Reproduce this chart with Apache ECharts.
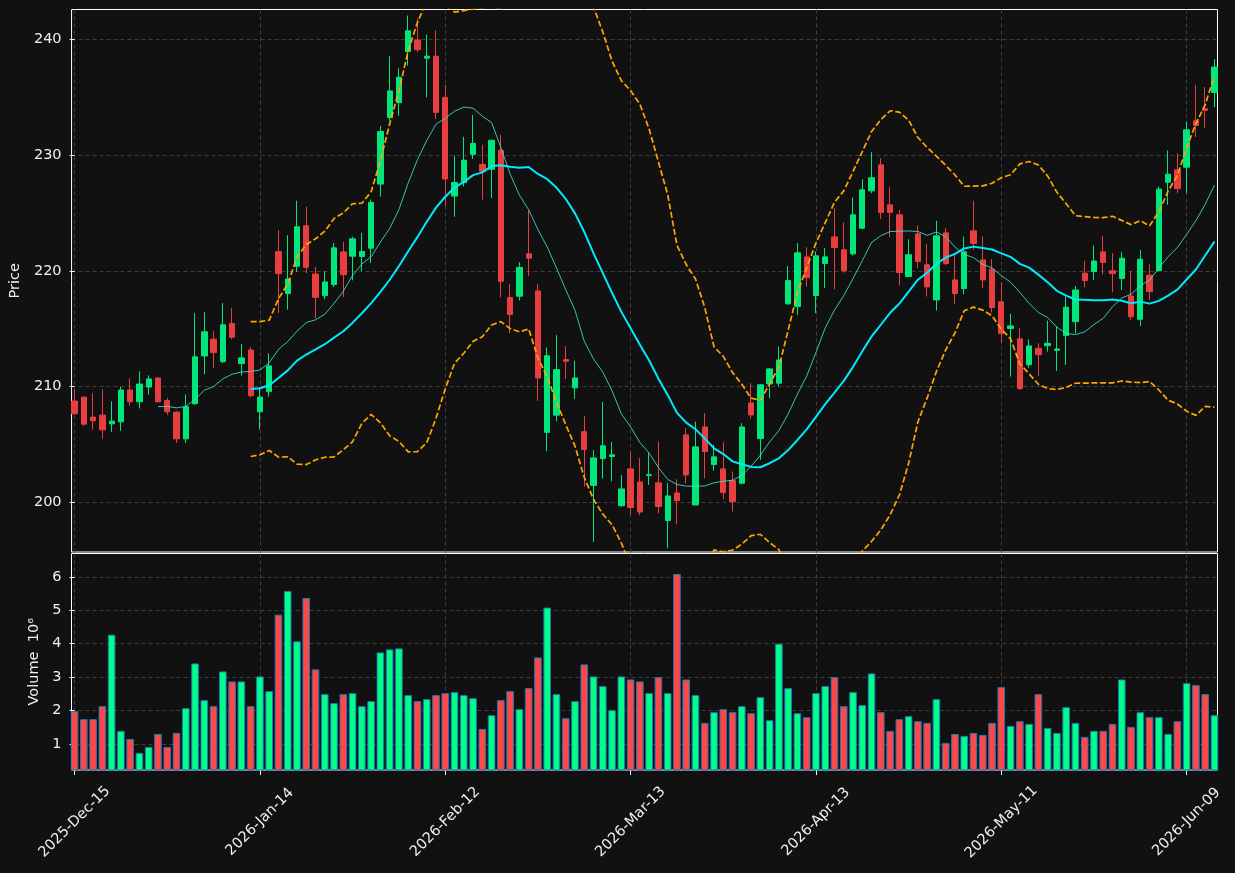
<!DOCTYPE html>
<html>
<head>
<meta charset="utf-8">
<title>Candlestick</title>
<script src="https://cdn.jsdelivr.net/npm/echarts@6/dist/echarts.min.js"></script>
<style>
  html, body { margin: 0; padding: 0; background: #111111; }
  #chart { width: 1235px; height: 873px; }
</style>
</head>
<body>
<div id="chart"></div>
<script>
// trading days (index 0..123)
const dates = [
  '2025-12-15','2025-12-16','2025-12-17','2025-12-18','2025-12-19','2025-12-22','2025-12-23','2025-12-24','2025-12-26','2025-12-29',
  '2025-12-30','2025-12-31','2026-01-02','2026-01-05','2026-01-06','2026-01-07','2026-01-08','2026-01-09','2026-01-12','2026-01-13',
  '2026-01-14','2026-01-15','2026-01-16','2026-01-20','2026-01-21','2026-01-22','2026-01-23','2026-01-26','2026-01-27','2026-01-28',
  '2026-01-29','2026-01-30','2026-02-02','2026-02-03','2026-02-04','2026-02-05','2026-02-06','2026-02-09','2026-02-10','2026-02-11',
  '2026-02-12','2026-02-13','2026-02-17','2026-02-18','2026-02-19','2026-02-20','2026-02-23','2026-02-24','2026-02-25','2026-02-26',
  '2026-02-27','2026-03-02','2026-03-03','2026-03-04','2026-03-05','2026-03-06','2026-03-09','2026-03-10','2026-03-11','2026-03-12',
  '2026-03-13','2026-03-16','2026-03-17','2026-03-18','2026-03-19','2026-03-20','2026-03-23','2026-03-24','2026-03-25','2026-03-26',
  '2026-03-27','2026-03-30','2026-03-31','2026-04-01','2026-04-02','2026-04-06','2026-04-07','2026-04-08','2026-04-09','2026-04-10',
  '2026-04-13','2026-04-14','2026-04-15','2026-04-16','2026-04-17','2026-04-20','2026-04-21','2026-04-22','2026-04-23','2026-04-24',
  '2026-04-27','2026-04-28','2026-04-29','2026-04-30','2026-05-01','2026-05-04','2026-05-05','2026-05-06','2026-05-07','2026-05-08',
  '2026-05-11','2026-05-12','2026-05-13','2026-05-14','2026-05-15','2026-05-18','2026-05-19','2026-05-20','2026-05-21','2026-05-22',
  '2026-05-26','2026-05-27','2026-05-28','2026-05-29','2026-06-01','2026-06-02','2026-06-03','2026-06-04','2026-06-05','2026-06-08',
  '2026-06-09','2026-06-10','2026-06-11','2026-06-12'
];

const opens = [
  208.73,209.07,207.34,207.51,206.76,206.93,209.68,208.67,209.94,210.72,
  208.78,207.77,205.46,208.50,212.63,214.08,212.14,215.44,211.97,213.15,
  207.80,209.54,221.66,218.02,220.39,223.89,219.72,217.84,218.80,221.63,
  221.26,221.23,221.95,227.50,233.24,234.54,238.96,239.97,238.39,238.56,
  235.00,226.46,227.62,230.07,229.20,228.78,230.42,217.68,217.80,221.47,
  218.25,206.02,207.51,212.32,209.87,206.08,201.43,203.75,203.93,199.67,
  202.86,201.73,202.28,201.65,198.39,200.78,205.80,199.74,206.49,203.23,
  202.86,201.85,201.62,208.57,205.48,210.21,210.27,217.14,216.90,221.20,
  217.86,220.63,222.93,221.81,221.46,223.68,226.91,229.16,225.70,224.84,
  219.50,223.19,220.51,217.48,223.28,219.21,218.46,223.45,220.94,220.14,
  217.31,215.00,214.11,211.87,213.29,213.52,213.12,214.39,215.60,219.78,
  219.93,221.63,219.99,219.32,217.82,215.80,219.61,220.01,227.66,228.73,
  228.96,232.97,234.01,235.43
];
const highs = [
  209.74,209.10,209.39,209.74,208.70,209.97,210.69,211.30,210.95,210.80,
  209.00,207.85,209.30,216.34,216.42,214.77,217.20,216.77,213.65,213.41,
  209.88,212.86,223.51,223.08,226.06,225.54,220.33,219.98,222.41,222.50,
  222.93,223.28,226.17,232.54,238.56,237.52,242.08,241.80,240.44,240.79,
  236.10,229.96,231.59,233.47,230.90,231.32,231.77,218.85,220.73,225.20,
  218.85,213.36,214.43,213.48,212.23,207.42,204.47,208.65,205.19,202.32,
  204.32,203.79,204.22,205.22,201.62,201.96,206.38,206.95,207.68,204.94,
  205.17,202.63,206.81,210.27,210.20,211.55,213.44,220.42,222.39,222.04,
  221.66,221.95,225.41,224.17,226.34,227.92,230.26,229.74,227.23,225.27,
  222.73,223.91,222.30,224.32,223.68,221.46,222.96,226.05,222.96,221.00,
  219.01,216.27,215.03,214.07,213.72,215.69,215.17,217.76,218.69,220.88,
  222.18,223.01,221.52,221.63,219.99,221.80,220.56,227.29,230.40,230.17,
  232.91,236.09,235.89,238.31
];
const lows = [
  207.55,206.58,206.24,205.46,206.06,206.15,208.32,208.09,209.28,208.60,
  207.54,205.11,205.11,208.40,211.04,211.56,212.00,214.08,210.93,209.04,
  206.27,209.10,216.34,216.63,219.90,219.81,215.90,217.55,218.60,217.73,
  219.17,219.98,220.68,226.41,233.00,233.41,237.74,238.90,235.00,233.12,
  225.60,224.67,227.30,229.68,226.16,226.30,217.71,214.61,217.42,219.53,
  208.74,204.38,206.98,210.64,208.91,201.34,196.53,202.02,201.79,199.61,
  198.92,198.87,201.47,199.02,195.99,198.07,201.62,199.74,202.05,202.71,
  200.23,199.17,201.53,207.21,203.64,208.97,209.98,217.05,216.18,218.64,
  216.33,218.49,218.40,219.84,221.32,223.60,226.71,224.46,222.90,218.72,
  219.45,220.22,217.77,216.56,220.50,217.11,217.97,221.81,218.49,216.39,
  213.73,210.85,209.70,211.60,210.90,213.00,211.33,211.85,214.59,218.57,
  219.21,219.70,218.14,218.34,215.74,215.22,217.47,220.01,225.70,226.71,
  226.71,231.56,232.34,234.16
];
const closes = [
  207.63,206.73,207.02,206.24,206.99,209.68,208.67,210.20,210.64,208.67,
  207.80,205.46,208.23,212.55,214.72,212.92,215.32,214.25,212.46,209.19,
  209.07,211.77,219.75,219.29,223.80,220.30,217.70,219.03,221.98,219.66,
  222.76,221.66,225.91,232.05,235.55,236.74,240.76,239.13,238.56,233.70,
  227.94,227.63,229.56,231.02,228.60,231.29,219.09,216.22,220.28,221.09,
  210.73,212.64,211.45,212.17,210.73,204.53,203.81,204.86,204.08,201.13,
  199.52,199.13,202.36,199.60,200.52,200.12,202.34,204.76,204.36,203.90,
  200.81,200.03,206.49,207.53,210.13,211.51,212.29,219.16,221.55,219.41,
  221.29,221.20,222.01,219.99,224.84,227.00,228.04,225.04,225.04,219.85,
  221.38,220.80,218.61,223.02,220.63,218.03,221.64,222.36,219.21,216.82,
  214.57,215.23,209.81,213.50,212.74,213.72,213.23,216.84,218.34,219.15,
  220.85,220.71,219.75,221.08,216.03,221.00,218.20,227.06,228.35,227.11,
  232.19,232.57,233.87,237.62
];
// volume in millions
const volumes = [
  1.98,1.74,1.74,2.13,4.27,1.39,1.15,0.73,0.91,1.30,
  0.91,1.33,2.07,3.41,2.31,2.13,3.17,2.87,2.87,2.13,
  3.02,2.58,4.87,5.58,4.07,5.37,3.23,2.49,2.22,2.49,
  2.52,2.13,2.28,3.74,3.83,3.86,2.46,2.28,2.34,2.46,
  2.52,2.55,2.46,2.37,1.45,1.86,2.31,2.58,2.04,2.67,
  3.59,5.08,2.49,1.77,2.28,3.38,3.02,2.73,2.01,3.02,
  2.93,2.87,2.52,3.00,2.52,6.09,2.93,2.46,1.63,1.95,
  2.04,1.95,2.13,1.92,2.40,1.71,4.00,2.67,1.92,1.80,
  2.52,2.73,3.00,2.13,2.55,2.16,3.11,1.95,1.39,1.74,
  1.83,1.68,1.63,2.34,1.03,1.30,1.24,1.33,1.27,1.63,
  2.70,1.54,1.68,1.60,2.49,1.48,1.33,2.10,1.63,1.21,
  1.39,1.39,1.60,2.93,1.51,1.95,1.80,1.80,1.30,1.68,
  2.82,2.76,2.49,1.86
];

const xTicks = [0, 20, 40, 60, 80, 100, 120];
const priceTicks = [200, 210, 220, 230, 240];
const volTicks = [1, 2, 3, 4, 5, 6];

const MONTHS = ['Jan','Feb','Mar','Apr','May','Jun','Jul','Aug','Sep','Oct','Nov','Dec'];
function fmtDate(s) {
  if (!s) return '';
  const p = s.split('-');
  return p[0] + '-' + MONTHS[+p[1] - 1] + '-' + p[2];
}

// moving average / bollinger from the closes
function rollingMean(arr, n) {
  const out = [];
  for (let i = n - 1; i < arr.length; i++) {
    let s = 0;
    for (let k = i - n + 1; k <= i; k++) s += arr[k];
    out.push([i, s / n]);
  }
  return out;
}
function bollinger(arr, n, k) {
  const up = [], lo = [];
  for (let i = n - 1; i < arr.length; i++) {
    let s = 0;
    for (let j = i - n + 1; j <= i; j++) s += arr[j];
    const m = s / n;
    let v = 0;
    for (let j = i - n + 1; j <= i; j++) v += (arr[j] - m) * (arr[j] - m);
    const sd = Math.sqrt(v / n);
    up.push([i, m + k * sd]);
    lo.push([i, m - k * sd]);
  }
  return { up, lo };
}

const UP = '#02e77c', DOWN = '#e73f3f';
const UP_VOL = '#00ff88', DOWN_VOL = '#ff4747';
const TEXT = '#f0f0f0';
const GRID_LINE = { show: true, lineStyle: { color: '#3d3d3d', width: 1, type: [4, 3] } };
const FONT = 'DejaVu Sans';
const FS = 14.5;

const ohlc = opens.map((o, i) => [i, o, closes[i], lows[i], highs[i]]);
const volData = volumes.map((v, i) => ({
  value: [i, v],
  itemStyle: { color: closes[i] >= opens[i] ? UP_VOL : DOWN_VOL }
}));
const ma10 = rollingMean(closes, 10);
const ma20 = rollingMean(closes, 20);
const bb = bollinger(closes, 20, 2);

const chart = echarts.init(document.getElementById('chart'));

const option = {
  backgroundColor: '#111111',
  animation: false,
  textStyle: { fontFamily: FONT },
  grid: [
    { left: 71.5, top: 9.5, width: 1146, height: 542.5, show: true, borderColor: '#ffffff', borderWidth: 1, backgroundColor: 'transparent' },
    { left: 71.5, top: 553.5, width: 1146, height: 216.5, show: true, borderColor: '#ffffff', borderWidth: 1, backgroundColor: 'transparent' }
  ],
  xAxis: [
    {
      type: 'value', gridIndex: 0, min: -0.33, max: 123.33,
      axisLine: { show: false },
      axisTick: { show: false, customValues: xTicks },
      axisLabel: { show: false, customValues: xTicks },
      splitLine: GRID_LINE
    },
    {
      type: 'value', gridIndex: 1, min: -0.33, max: 123.33,
      axisLine: { show: false },
      axisTick: { show: true, length: 5, customValues: xTicks, lineStyle: { color: '#ffffff' } },
      axisLabel: {
        customValues: xTicks,
        rotate: 45, align: 'center', verticalAlign: 'middle', margin: 52,
        color: TEXT, fontSize: FS, fontFamily: FONT,
        formatter: v => fmtDate(dates[Math.round(v)])
      },
      splitLine: GRID_LINE
    }
  ],
  yAxis: [
    {
      type: 'value', gridIndex: 0, min: 195.67, max: 242.6,
      name: 'Price', nameLocation: 'middle', nameGap: 47, nameRotate: 90,
      nameTextStyle: { color: TEXT, fontSize: FS, fontFamily: FONT },
      axisLine: { show: false },
      axisTick: { show: true, length: 5, customValues: priceTicks, lineStyle: { color: '#ffffff' } },
      axisLabel: { customValues: priceTicks, margin: 10, color: TEXT, fontSize: FS, fontFamily: FONT },
      splitLine: GRID_LINE
    },
    {
      type: 'value', gridIndex: 1, min: 0.219, max: 6.70,
      name: 'Volume  10⁶', nameLocation: 'middle', nameGap: 30, nameRotate: 90,
      nameTextStyle: { color: TEXT, fontSize: FS, fontFamily: FONT },
      axisLine: { show: false },
      axisTick: { show: true, length: 5, customValues: volTicks, lineStyle: { color: '#ffffff' } },
      axisLabel: { customValues: volTicks, margin: 10, color: TEXT, fontSize: FS, fontFamily: FONT },
      splitLine: GRID_LINE
    }
  ],
  series: [
    {
      name: 'OHLC', type: 'candlestick', xAxisIndex: 0, yAxisIndex: 0,
      data: ohlc,
      encode: { x: 0, y: [1, 2, 3, 4] },
      barWidth: 5.8,
      itemStyle: { color: UP, color0: DOWN, borderColor: UP, borderColor0: DOWN, borderWidth: 1 }
    },
    {
      name: 'MA10', type: 'line', xAxisIndex: 0, yAxisIndex: 0, data: ma10,
      showSymbol: false, lineStyle: { color: '#40e0d0', width: 1, opacity: 0.85 }
    },
    {
      name: 'MA20', type: 'line', xAxisIndex: 0, yAxisIndex: 0, data: ma20,
      showSymbol: false, lineStyle: { color: '#00eaff', width: 2 }
    },
    {
      name: 'BB upper', type: 'line', xAxisIndex: 0, yAxisIndex: 0, data: bb.up,
      showSymbol: false, lineStyle: { color: '#ffa500', width: 1.7, type: [6, 2.6] }
    },
    {
      name: 'BB lower', type: 'line', xAxisIndex: 0, yAxisIndex: 0, data: bb.lo,
      showSymbol: false, lineStyle: { color: '#ffa500', width: 1.7, type: [6, 2.6] }
    },
    {
      name: 'Volume', type: 'bar', xAxisIndex: 1, yAxisIndex: 1,
      data: volData,
      barWidth: 7.6,
      itemStyle: { borderColor: '#1f77b4', borderWidth: 1 }
    }
  ]
};

chart.setOption(option);
</script>
</body>
</html>
